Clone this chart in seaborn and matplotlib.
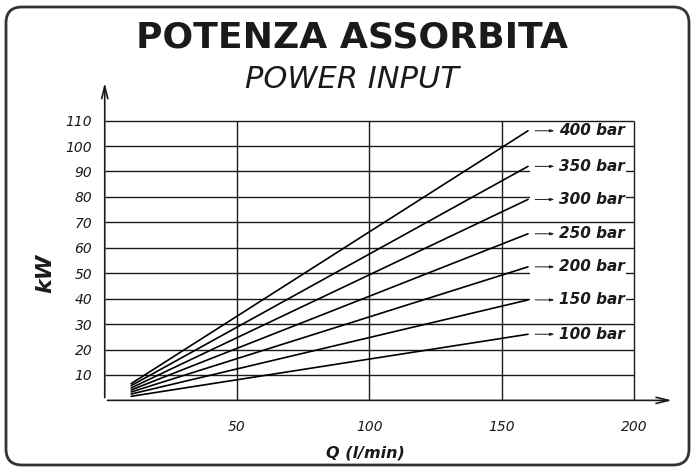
import matplotlib
matplotlib.use("Agg")
import matplotlib.pyplot as plt
from matplotlib.patches import FancyBboxPatch, Rectangle
from matplotlib.transforms import IdentityTransform
import seaborn as sns
import pandas as pd

# data
pressures = ["100 bar", "150 bar", "200 bar", "250 bar", "300 bar", "350 bar", "400 bar"]
q_start = 10
q_end = 160
kw_start = [1.6, 2.5, 3.3, 4.1, 4.9, 5.8, 6.6]
kw_end = [26, 39.5, 52.5, 65.5, 79, 92, 106]
x_ticks = [50, 100, 150, 200]
y_ticks = [10, 20, 30, 40, 50, 60, 70, 80, 90, 100, 110]

rows = []
for p, a, b in zip(pressures, kw_start, kw_end):
    rows.append({"Q": q_start, "kW": a, "p": p})
    rows.append({"Q": q_end, "kW": b, "p": p})
df = pd.DataFrame(rows)

sns.set_style("white")
plt.rcParams["font.family"] = ["DejaVu Sans"]

fig = plt.figure(figsize=(6.95, 4.69), dpi=100)
ax = fig.add_axes([0.1507, 0.1463, 0.8203, 0.6725])
ax.set_xlim(0, 215.5)
ax.set_ylim(0, 124)

ink = "#1a1a1a"
# grid / frame
ax.hlines(y_ticks, 0, 200, color=ink, lw=1.0, zorder=1)
ax.vlines(x_ticks, 0, 110, color=ink, lw=1.0, zorder=1)

sns.lineplot(data=df, x="Q", y="kW", hue="p", palette=["black"] * len(pressures),
             legend=False, lw=1.2, ax=ax, zorder=3)

# axes with open arrow heads
arr = dict(arrowstyle="->,head_length=0.9,head_width=0.22", color=ink, lw=1.2)
ax.annotate("", xy=(0, 126), xytext=(0, 0), arrowprops=arr, annotation_clip=False)
ax.annotate("", xy=(215.5, 0), xytext=(0, 0), arrowprops=arr, annotation_clip=False)

for sp in ax.spines.values():
    sp.set_visible(False)

ax.set_xticks(x_ticks)
ax.set_yticks(y_ticks)
ax.tick_params(axis="both", length=5, width=1, color=ink, labelsize=10, labelcolor=ink)
ax.tick_params(axis="x", pad=9)
ax.tick_params(axis="y", pad=4)
for t in ax.get_xticklabels() + ax.get_yticklabels():
    t.set_fontstyle("italic")

ax.set_xlabel("Q (l/min)", fontsize=11.5, fontweight="bold", fontstyle="italic",
              color=ink, va="center")
ax.set_ylabel("kW", fontsize=16, fontweight="bold", fontstyle="italic",
              color=ink, va="center")
ax.xaxis.set_label_coords(0.458, -0.167)
ax.yaxis.set_label_coords(-0.105, 0.404)

# pressure labels with white boxes
for p, yv in zip(pressures, kw_end):
    ax.add_patch(Rectangle((160.8, yv - 3.15), 36.4, 6.3, facecolor="white",
                           edgecolor="none", zorder=4))
    ax.annotate("", xy=(170, yv), xytext=(162.7, yv),
                arrowprops=dict(arrowstyle="-|>,head_length=0.25,head_width=0.08",
                                color=ink, lw=0.7, shrinkA=0, shrinkB=0), zorder=5)
    ax.text(171.8, yv, p, fontsize=11, fontweight="bold", fontstyle="italic",
            va="center", ha="left", color=ink, zorder=5)

fig.text(352 / 695, 1 - 38 / 469, "POTENZA ASSORBITA", fontsize=26, fontweight="bold",
         ha="center", va="center", color=ink)
fig.text(352 / 695, 1 - 79 / 469, "POWER INPUT", fontsize=22, fontstyle="italic",
         ha="center", va="center", color=ink)

border = FancyBboxPatch((6, 4), 683, 458, boxstyle="round,pad=0,rounding_size=16",
                        transform=IdentityTransform(), facecolor="none",
                        edgecolor="#333333", lw=2)
fig.add_artist(border)

fig.savefig("out.png", dpi=100)
